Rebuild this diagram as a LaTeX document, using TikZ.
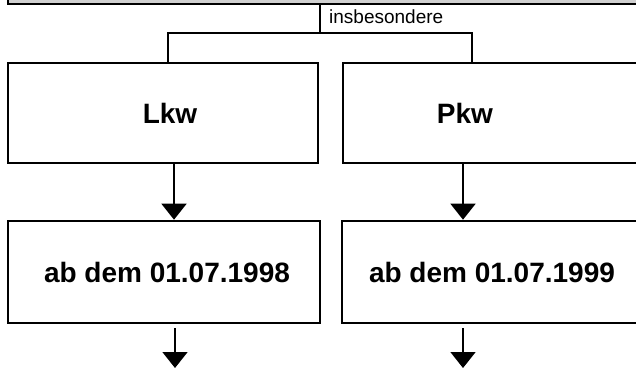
\documentclass[tikz,border=0pt]{standalone}
\usepackage{fontspec}
\setmainfont{Liberation Sans}
\usetikzlibrary{arrows.meta}
\definecolor{topgrey}{HTML}{D0D0D0}
\tikzset{
  box/.style={draw=black, line width=2.6pt, fill=white, inner sep=0pt, font=\fontsize{28}{30}\selectfont\bfseries},
  boxtext/.style={inner sep=0pt, font=\fontsize{28}{30}\selectfont\bfseries},
  link/.style={draw=black, line width=2pt},
  arr/.style={draw=black, line width=1.6pt, -{Triangle[width=25pt,length=16pt]}},
  lbl/.style={font=\fontsize{19}{21}\selectfont, inner sep=0pt}
}
\begin{document}
\begin{tikzpicture}[x=1pt,y=-1pt]
\useasboundingbox (0,0) rectangle (636,372);
\clip (0,0) rectangle (636,372);
\node[box, fill=topgrey, minimum width=692pt, minimum height=64pt] (top) at (354,-28) {};
\node[box, minimum width=310pt, minimum height=100pt] (lkw) at (163,113) {};
\node[box, minimum width=300pt, minimum height=100pt] (pkw) at (493,113) {};
\node[boxtext] (lkwt) at (170,113) {Lkw};
\node[boxtext] (pkwt) at (465,113) {Pkw};
\node[box, minimum width=312pt, minimum height=102pt] (d1) at (164,272) {};
\node[boxtext] (d1t) at (167,272) {ab dem 01.07.1998};
\node[box, minimum width=300pt, minimum height=102pt] (d2) at (492,272) {ab dem 01.07.1999};
\node[lbl, anchor=west] (ins) at (329,17) {insbesondere};
\coordinate (j) at (320,33);
\coordinate (jl) at (168,33);
\coordinate (jr) at (472,33);
\coordinate (al) at (174,0);
\coordinate (ar) at (463,0);
\coordinate (e1) at (175,368);
\coordinate (e2) at (463,368);
\draw[link] (top.south -| j) -- (j);
\draw[link] (lkw.north -| jl) -- (jl) -- (jr) -- (pkw.north -| jr);
\draw[arr] (lkw.south -| al) -- (d1.north -| al);
\draw[arr] (pkw.south -| ar) -- (d2.north -| ar);
\draw[arr] (d1.south -| e1) ++(0,4) -- (e1);
\draw[arr] (d2.south -| e2) ++(0,4) -- (e2);
\end{tikzpicture}
\end{document}
